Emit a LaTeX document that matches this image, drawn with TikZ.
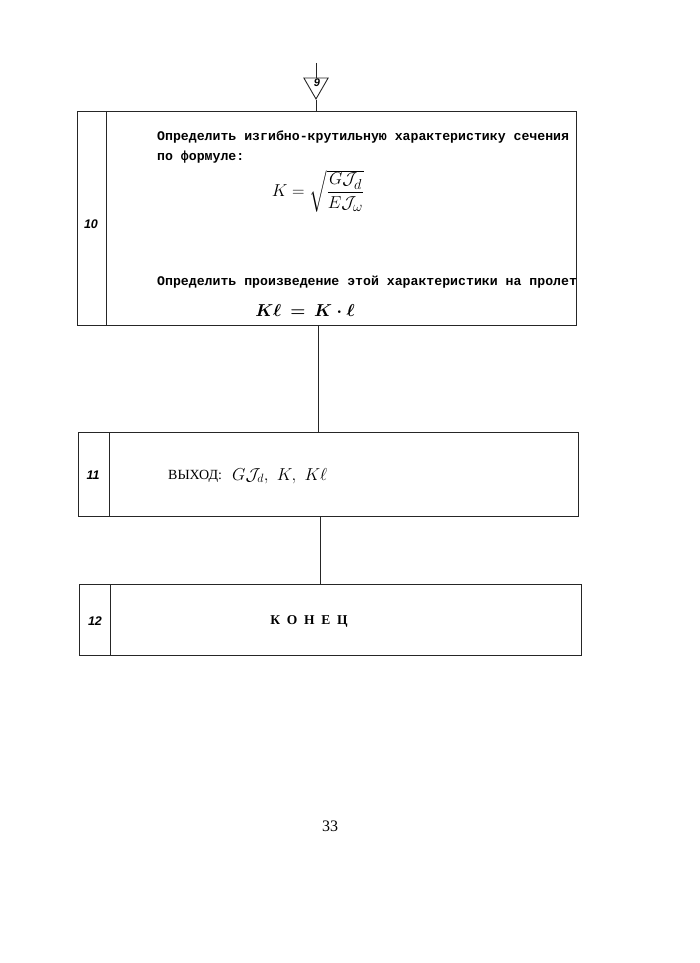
\documentclass[tikz,border=0pt]{standalone}
\usepackage{amsmath}
\usepackage{fontspec}
\newfontfamily\typew{Liberation Mono}
\newfontfamily\serifru{Liberation Serif}
\newfontfamily\numfont{Liberation Sans}
\usetikzlibrary{shapes.geometric}
\begin{document}
\begin{tikzpicture}[x=1pt,y=-1pt,
  line/.style={line width=0.9pt,draw=black!85},
  blk/.style={line, rectangle, inner sep=0pt},
  numlab/.style={font=\numfont\bfseries\itshape\fontsize{12.5}{14}\selectfont},
  tw/.style={font=\typew\bfseries\fontsize{13.2}{15}\selectfont, inner sep=0pt, anchor=west},
  mathl/.style={inner sep=0pt}]
\useasboundingbox (0,0) rectangle (700,963);
% connector entry
\node[line, regular polygon, regular polygon sides=3, shape border rotate=180,
      minimum size=28pt, inner sep=0pt] (tri) at (316,85) {};
\node[font=\numfont\bfseries\itshape\fontsize{11}{12}\selectfont, inner sep=0pt] (nine) at (317,83) {9};
\coordinate (top) at (316,63);
\draw[line] (top) -- (tri.north);
% blocks
\node[blk, minimum width=499pt, minimum height=214pt] (b10) at (326.5,218) {};
\node[blk, minimum width=500pt, minimum height=84pt] (b11) at (328.5,474) {};
\node[blk, minimum width=502pt, minimum height=71pt] (b12) at (330,619.5) {};
\draw[line] (106,111) -- (106,325);
\draw[line] (109,432) -- (109,516);
\draw[line] (110,584) -- (110,655);
% connectors
\coordinate (c1) at (318,0);
\draw[line] (tri.south) -- (tri.south |- b10.north);
\draw[line] (b10.south -| c1) -- (b11.north -| c1);
\coordinate (c2) at (320,0);
\draw[line] (b11.south -| c2) -- (b12.north -| c2);
% numbers
\node[numlab] (n10) at (91,224) {10};
\node[numlab] (n11) at (93,475) {11};
\node[numlab] (n12) at (95,621) {12};
% block 10 text
\node[tw] (t1) at (157,137) {Определить изгибно-крутильную характеристику сечения};
\node[tw] (t2) at (157,157) {по формуле:};
\node[mathl, font=\fontsize{19}{22}\selectfont] (f1) at (318,191) {$K=\sqrt{\dfrac{G\mathcal{J}_d}{E\mathcal{J}_\omega}}$};
\node[tw] (t3) at (157,282) {Определить произведение этой характеристики на пролет};
\node[mathl, font=\fontsize{16}{18}\selectfont] (f2) at (305,310) {$\boldsymbol{K\ell\,=\,K\cdot\ell}$};
% block 11 text
\node[inner sep=0pt, anchor=west, font=\serifru\fontsize{14}{16}\selectfont] (out) at (168,476) {ВЫХОД:};
\node[inner sep=0pt, anchor=west, font=\fontsize{18}{20}\selectfont] (outv) at (232,476) {$G\mathcal{J}_d,\ K,\ K\ell$};
% block 12 text
\node[inner sep=0pt, font=\serifru\bfseries\fontsize{13.5}{15}\selectfont] (end) at (309,621) {К\,\,\,О\,\,\,Н\,\,\,Е\,\,\,Ц};
% page number
\node[inner sep=0pt, font=\serifru\fontsize{16}{18}\selectfont] (pg) at (330,826) {33};
\end{tikzpicture}
\end{document}
